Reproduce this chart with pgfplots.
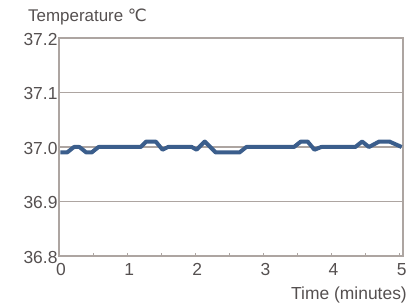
\documentclass[border=0pt]{standalone}
\usepackage{fontspec}
\setmainfont{Liberation Sans}
\newfontfamily\dejavu{DejaVu Sans}
\usepackage{pgfplots}
\pgfplotsset{compat=1.18}
\definecolor{frame}{HTML}{ADA5A1}
\definecolor{txt}{HTML}{555050}
\definecolor{line}{HTML}{3B5E8C}
\begin{document}
\begin{tikzpicture}
\begin{axis}[
  name=ax,
  scale only axis,
  width=344bp, height=218bp,
  xmin=0, xmax=5.05, ymin=36.8, ymax=37.2,
  xtick={0,1,2,3,4,5},
  minor xtick={0.5,1.5,2.5,3.5,4.5},
  ytick={36.8,36.9,37.0,37.1,37.2},
  yticklabel style={xshift=2bp, yshift=-1bp},
  y tick label style={/pgf/number format/fixed,/pgf/number format/fixed zerofill,/pgf/number format/precision=1},
  /pgf/number format/assume math mode=true,
  ymajorgrids,
  grid style={frame, line width=1.2bp},
  axis line style={frame, line width=1.2bp},
  major tick length=3bp, minor tick length=3bp,
  xtick pos=bottom, ytick pos=left,
  ytick style={draw=none},
  xtick style={frame, line width=0.8bp},
  minor tick style={frame, line width=0.8bp},
  tick label style={font=\fontsize{17.5}{20}\selectfont, text=txt},
  xticklabel style={xshift=2bp, yshift=-4bp},
  clip=false,
]
\addplot[line, line width=4bp, line join=round] coordinates {
(0.02,36.99)(0.12,36.99)(0.22,37.0)(0.3,37.0)(0.4,36.99)(0.48,36.99)(0.58,37.0)
(1.2,37.0)(1.28,37.01)(1.42,37.01)(1.52,36.995)(1.6,37.0)
(1.95,37.0)(2.02,36.995)(2.14,37.01)(2.3,36.99)(2.65,36.99)(2.75,37.0)
(3.45,37.0)(3.55,37.01)(3.65,37.01)(3.75,36.995)(3.85,37.0)
(4.35,37.0)(4.45,37.01)(4.55,37.0)(4.7,37.01)(4.85,37.01)(5.03,37.0)
};
\end{axis}
\node[anchor=west, text=txt, font=\fontsize{17}{20}\selectfont, inner sep=0pt]
  at ([xshift=-31bp, yshift=21bp]ax.north west) {Temperature {\dejavu ℃}};
\node[anchor=east, text=txt, font=\fontsize{17.5}{20}\selectfont, inner sep=0pt]
  at ([xshift=4bp, yshift=-39bp]ax.south east) {Time (minutes)};
\pgfresetboundingbox
\path[use as bounding box] ([xshift=-59bp,yshift=-51bp]ax.south west) rectangle ([xshift=5bp,yshift=38bp]ax.north east);
\end{tikzpicture}
\end{document}
